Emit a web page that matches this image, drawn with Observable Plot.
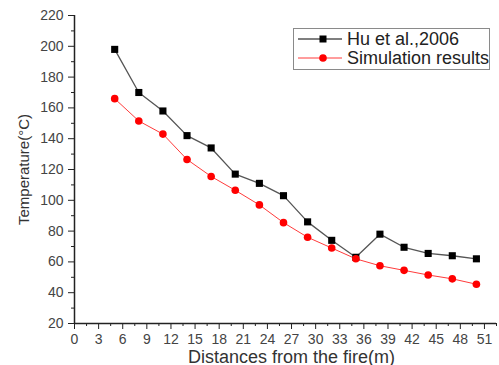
<!DOCTYPE html>
<html>
<head>
<meta charset="utf-8">
<script src="https://cdn.jsdelivr.net/npm/d3@7"></script>
<script src="https://cdn.jsdelivr.net/npm/@observablehq/plot@0.6"></script>
<style>
  html, body { margin: 0; padding: 0; background: #fff; }
  #wrap { position: relative; width: 499px; height: 365px; font-family: "Liberation Sans", Arial, sans-serif; }
  #legend { position: absolute; left: 293px; top: 28px; width: 197px; height: 42px; border: 1px solid #8a8a8a; background: #fff; box-sizing: border-box; }
  .row { position: absolute; left: 2px; height: 20px; display: flex; align-items: center; font-size: 18px; color: #222; white-space: nowrap; }
  .row svg { margin-right: 3px; }
</style>
</head>
<body>
<div id="wrap"></div>
<script>
const distances = [5, 8, 11, 14, 17, 20, 23, 26, 29, 32, 35, 38, 41, 44, 47, 50];
const huValues = [198, 170, 158, 142, 134, 117, 111, 103, 86, 74, 63, 78, 69.5, 65.5, 64, 62];
const simValues = [166, 151.5, 143, 126.5, 115.5, 106.5, 97, 85.5, 76, 69, 62, 57.5, 54.5, 51.5, 49, 45.5];
const seriesNames = ["Hu et al.,2006", "Simulation results"];
const lineColors = ["#555555", "#ff3b3b"];
const markColors = ["#000000", "#ff0000"];
const xTicks = [0, 3, 6, 9, 12, 15, 18, 21, 24, 27, 30, 33, 36, 39, 42, 45, 48, 51];
const xMinorTicks = [1.5, 4.5, 7.5, 10.5, 13.5, 16.5, 19.5, 22.5, 25.5, 28.5, 31.5, 34.5, 37.5, 40.5, 43.5, 46.5, 49.5, 52.5];
const yTicks = [20, 40, 60, 80, 100, 120, 140, 160, 180, 200, 220];
const yMinorTicks = [30, 50, 70, 90, 110, 130, 150, 170, 190, 210];
const xTitle = "Distances from the fire(m)";
const yTitle = "Temperature(°C)";

const hu = distances.map((d, i) => ({x: d, y: huValues[i]}));
const sim = distances.map((d, i) => ({x: d, y: simValues[i]}));

const chart = Plot.plot({
  width: 499,
  height: 365,
  marginLeft: 74,
  marginRight: 3,
  marginTop: 15,
  marginBottom: 42,
  style: {fontFamily: "Liberation Sans, Arial, sans-serif", fontSize: "14px", color: "#333", background: "#fff"},
  x: {domain: [0, 52.5]},
  y: {domain: [20, 220]},
  marks: [
    Plot.axisY(yTicks, {tickSize: 6, tickPadding: 5, fontSize: 14, stroke: "#222", fill: "#444",
      label: yTitle, labelAnchor: "center", labelArrow: "none", labelOffset: 56}),
    Plot.axisY(yMinorTicks, {tickSize: 3, text: null, stroke: "#222", label: null}),
    Plot.axisX(xTicks, {tickSize: 6, tickPadding: 5, fontSize: 14, stroke: "#222", fill: "#444",
      label: xTitle, labelAnchor: "center", labelArrow: "none", labelOffset: 39}),
    Plot.axisX(xMinorTicks, {tickSize: 3, text: null, stroke: "#222", label: null}),
    Plot.ruleX([0], {stroke: "#222", strokeWidth: 1.5}),
    Plot.ruleY([20], {stroke: "#222", strokeWidth: 1.5}),
    Plot.line(hu, {x: "x", y: "y", stroke: lineColors[0], strokeWidth: 1.3}),
    Plot.line(sim, {x: "x", y: "y", stroke: lineColors[1], strokeWidth: 1}),
    Plot.dot(hu, {x: "x", y: "y", symbol: "square", r: 4, fill: markColors[0], stroke: "none"}),
    Plot.dot(sim, {x: "x", y: "y", symbol: "circle", r: 3.8, fill: markColors[1], stroke: "none"})
  ]
});
const wrap = document.getElementById("wrap");
wrap.appendChild(chart);
chart.querySelectorAll("g[aria-label='y-axis label']").forEach(g => { g.setAttribute("font-size", 15); g.setAttribute("fill", "#333"); });
chart.querySelectorAll("g[aria-label='x-axis label']").forEach(g => {
  g.setAttribute("font-size", 18); g.setAttribute("fill", "#333");
  g.querySelectorAll("text").forEach(t => t.setAttribute("dx", 6));
});

// legend
const legend = document.createElement("div");
legend.id = "legend";
seriesNames.forEach((name, i) => {
  const row = document.createElement("div");
  row.className = "row";
  row.style.top = (i === 0 ? 0 : 19) + "px";
  const svg = d3.create("svg").attr("width", 48).attr("height", 12);
  svg.append("line").attr("x1", 2).attr("x2", 46).attr("y1", 6).attr("y2", 6)
    .attr("stroke", lineColors[i]).attr("stroke-width", i === 0 ? 1.3 : 1);
  if (i === 0) svg.append("rect").attr("x", 23.5).attr("y", 2.5).attr("width", 7).attr("height", 7).attr("fill", markColors[i]);
  else svg.append("circle").attr("cx", 27).attr("cy", 6).attr("r", 3.8).attr("fill", markColors[i]);
  row.appendChild(svg.node());
  const span = document.createElement("span");
  span.textContent = name;
  row.appendChild(span);
  legend.appendChild(row);
});
wrap.appendChild(legend);
</script>
</body>
</html>
